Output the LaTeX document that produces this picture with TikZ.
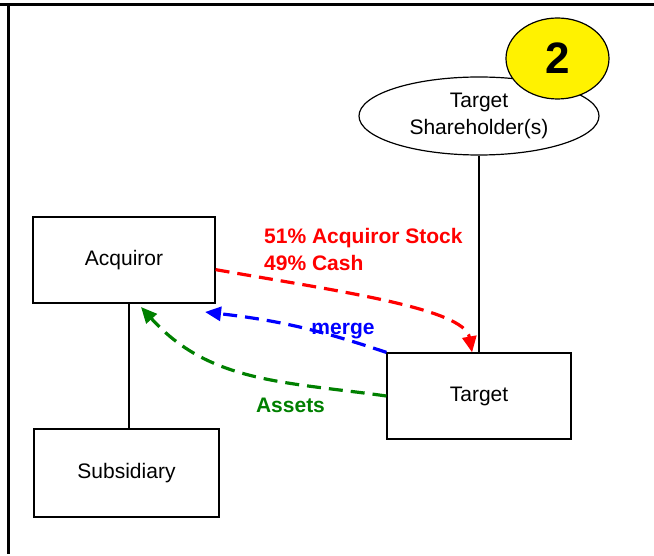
\documentclass[tikz,border=0pt]{standalone}
\usepackage{fontspec}
\setmainfont{Liberation Sans}
\usepackage{tikz}
\usetikzlibrary{arrows.meta}
\usetikzlibrary{shapes.geometric}
\definecolor{assetgreen}{RGB}{0,128,0}

\begin{document}
\begin{tikzpicture}[line join=miter,x=1pt,y=1pt,
  >={Triangle[length=16pt,width=14pt]},
  every node/.style={font=\fontsize{21}{27}\selectfont},
  party/.style={draw,line width=1.2pt,minimum width=182pt,minimum height=86pt,inner sep=0pt},
  flow/.style={->,line width=3.2pt,dash pattern=on 14pt off 8pt},
  lbl/.style={font=\fontsize{21}{27}\selectfont\bfseries,inner sep=0pt}]
\useasboundingbox (0,0) rectangle (654,555);
\draw [line width=3pt] (0,550)--(654,550);
\draw [line width=3pt] (8,550)--(8,1);
\node [party] (acq) at (124,295) {Acquiror};
\node [party,minimum width=185pt,minimum height=88pt] (sub) at (126.5,82) {Subsidiary};
\node [party,minimum width=184pt] (tgt) at (479,159) {Target};
\node [ellipse,draw,line width=1.2pt,minimum width=240pt,minimum height=78pt,inner sep=0pt,align=center] (holders) at (479,439) {Target\\Shareholder(s)};
\draw [line width=1.2pt] (holders.south)--(tgt.north);
\draw [line width=1.2pt] ([xshift=2.5pt]sub.north)--([xshift=2.5pt]sub.north |- acq.south);
\node [ellipse,draw,fill=yellow,line width=1.2pt,minimum width=103pt,minimum height=81pt,inner sep=0pt,font=\fontsize{44}{50}\selectfont\bfseries] (badge) at (557.5,496.5) {2};
\coordinate (mergeend) at (205,243);
\coordinate (assetsend) at (141,248);
\draw [flow,red] (acq.-6) to [out=-10,in=100,out distance=120pt,in distance=45pt] (tgt.99);
\draw [flow,blue] (tgt.north west) to [bend right=6] (mergeend);
\draw [flow,assetgreen] (tgt.west) to [out=172,in=-48] (assetsend);
\node [lbl,red,align=left,anchor=north west] (paylabel) at (264,327) {51\% Acquiror Stock\\49\% Cash};
\node [lbl,blue,anchor=base] (mergelabel) at (343,220) {merge};
\node [lbl,assetgreen,anchor=base] (assetslabel) at (290.5,142) {Assets};
\end{tikzpicture}
\end{document}
